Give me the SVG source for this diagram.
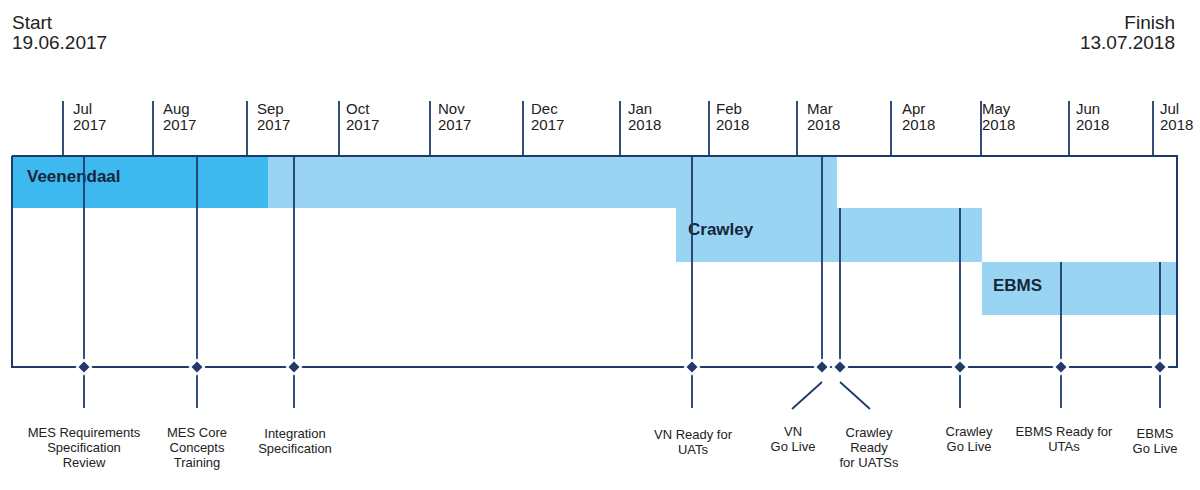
<svg xmlns="http://www.w3.org/2000/svg" width="1200" height="490" viewBox="0 0 1200 490">
  <style>
    .ln { stroke: #1e3a6b; stroke-width: 2; fill: none; }
    .ml { stroke: #1e3a6b; stroke-width: 1.8; fill: none; }
    .hdr { font-family: "Liberation Sans", Arial, sans-serif; font-size: 19px; fill: #222; }
    .mon { font-family: "Liberation Sans", Arial, sans-serif; font-size: 15px; fill: #222; }
    .lbl { font-family: "Liberation Sans", Arial, sans-serif; font-size: 13px; fill: #222; text-anchor: middle; }
    .band { font-family: "Liberation Sans", Arial, sans-serif; font-size: 17px; font-weight: bold; fill: #16263a; }
    .dark { fill: #3db9f0; }
    .light { fill: #99d5f3; }
  </style>
  <defs>
    <g id="dm">
      <polygon points="0,-8.5 8.5,0 0,8.5 -8.5,0" fill="#ffffff"/>
      <polygon points="0,-5.5 5.5,0 0,5.5 -5.5,0" fill="#1e3a6b"/>
    </g>
  </defs>
  <rect width="1200" height="490" fill="#ffffff"/>

  <g id="header">
    <text class="hdr" x="12" y="29">Start</text>
    <text class="hdr" x="12" y="49">19.06.2017</text>
    <text class="hdr" x="1175" y="29" text-anchor="end">Finish</text>
    <text class="hdr" x="1175" y="49" text-anchor="end">13.07.2018</text>
  </g>

  <g id="bands">
    <g id="band-veenendaal">
      <rect class="dark" x="12" y="156" width="256" height="52"/>
      <rect class="light" x="268" y="156" width="569" height="52"/>
      <text class="band" x="27" y="182">Veenendaal</text>
    </g>
    <g id="band-crawley">
      <rect class="light" x="676" y="208" width="306" height="54"/>
      <text class="band" x="688" y="235">Crawley</text>
    </g>
    <g id="band-ebms">
      <rect class="light" x="982" y="262" width="195" height="53"/>
      <text class="band" x="993" y="291">EBMS</text>
    </g>
  </g>

  <g id="months">
    <g class="ml">
      <line x1="63" y1="101" x2="63" y2="156"/>
      <line x1="153" y1="101" x2="153" y2="156"/>
      <line x1="247" y1="101" x2="247" y2="156"/>
      <line x1="339" y1="101" x2="339" y2="156"/>
      <line x1="430" y1="101" x2="430" y2="156"/>
      <line x1="523" y1="101" x2="523" y2="156"/>
      <line x1="620" y1="101" x2="620" y2="156"/>
      <line x1="709" y1="101" x2="709" y2="156"/>
      <line x1="797" y1="101" x2="797" y2="156"/>
      <line x1="891" y1="101" x2="891" y2="156"/>
      <line x1="981" y1="101" x2="981" y2="156"/>
      <line x1="1069" y1="101" x2="1069" y2="156"/>
      <line x1="1153" y1="101" x2="1153" y2="156"/>
    </g>
    <text class="mon" x="73" y="114">Jul</text><text class="mon" x="73" y="130">2017</text>
    <text class="mon" x="163" y="114">Aug</text><text class="mon" x="163" y="130">2017</text>
    <text class="mon" x="257" y="114">Sep</text><text class="mon" x="257" y="130">2017</text>
    <text class="mon" x="346" y="114">Oct</text><text class="mon" x="346" y="130">2017</text>
    <text class="mon" x="438" y="114">Nov</text><text class="mon" x="438" y="130">2017</text>
    <text class="mon" x="531" y="114">Dec</text><text class="mon" x="531" y="130">2017</text>
    <text class="mon" x="628" y="114">Jan</text><text class="mon" x="628" y="130">2018</text>
    <text class="mon" x="716" y="114">Feb</text><text class="mon" x="716" y="130">2018</text>
    <text class="mon" x="807" y="114">Mar</text><text class="mon" x="807" y="130">2018</text>
    <text class="mon" x="902" y="114">Apr</text><text class="mon" x="902" y="130">2018</text>
    <text class="mon" x="982" y="114">May</text><text class="mon" x="982" y="130">2018</text>
    <text class="mon" x="1076" y="114">Jun</text><text class="mon" x="1076" y="130">2018</text>
    <text class="mon" x="1160" y="114">Jul</text><text class="mon" x="1160" y="130">2018</text>
  </g>

  <g id="frame">
    <polyline class="ln" points="12,156 1177,156 1177,367 12,367 12,156"/>
  </g>

  <g id="connectors">
    <line class="ml" x1="84" y1="156" x2="84" y2="408"/>
    <line class="ml" x1="197" y1="156" x2="197" y2="408"/>
    <line class="ml" x1="294" y1="156" x2="294" y2="408"/>
    <line class="ml" x1="692" y1="156" x2="692" y2="408"/>
    <line class="ml" x1="822" y1="156" x2="822" y2="367"/>
    <line class="ml" x1="822" y1="382" x2="792" y2="409"/>
    <line class="ml" x1="840" y1="208" x2="840" y2="367"/>
    <line class="ml" x1="840" y1="382" x2="870" y2="409"/>
    <line class="ml" x1="960" y1="208" x2="960" y2="408"/>
    <line class="ml" x1="1061" y1="262" x2="1061" y2="408"/>
    <line class="ml" x1="1160" y1="262" x2="1160" y2="408"/>
  </g>

  <g id="m-mes-req">
    <use href="#dm" x="84" y="367"/>
    <text class="lbl" x="84" y="437">MES Requirements</text>
    <text class="lbl" x="84" y="452">Specification</text>
    <text class="lbl" x="84" y="467">Review</text>
  </g>
  <g id="m-mes-core">
    <use href="#dm" x="197" y="367"/>
    <text class="lbl" x="197" y="437">MES Core</text>
    <text class="lbl" x="197" y="452">Concepts</text>
    <text class="lbl" x="197" y="467">Training</text>
  </g>
  <g id="m-integration">
    <use href="#dm" x="294" y="367"/>
    <text class="lbl" x="295" y="438">Integration</text>
    <text class="lbl" x="295" y="453">Specification</text>
  </g>
  <g id="m-vn-ready">
    <use href="#dm" x="692" y="367"/>
    <text class="lbl" x="693" y="439">VN Ready for</text>
    <text class="lbl" x="693" y="454">UATs</text>
  </g>
  <g id="m-vn-live">
    <use href="#dm" x="822" y="367"/>
    <text class="lbl" x="793" y="436">VN</text>
    <text class="lbl" x="793" y="451">Go Live</text>
  </g>
  <g id="m-crawley-ready">
    <use href="#dm" x="840" y="367"/>
    <text class="lbl" x="869" y="437">Crawley</text>
    <text class="lbl" x="869" y="452">Ready</text>
    <text class="lbl" x="869" y="467">for UATSs</text>
  </g>
  <g id="m-crawley-live">
    <use href="#dm" x="960" y="367"/>
    <text class="lbl" x="969" y="436">Crawley</text>
    <text class="lbl" x="969" y="451">Go Live</text>
  </g>
  <g id="m-ebms-ready">
    <use href="#dm" x="1061" y="367"/>
    <text class="lbl" x="1064" y="436">EBMS Ready for</text>
    <text class="lbl" x="1064" y="451">UTAs</text>
  </g>
  <g id="m-ebms-live">
    <use href="#dm" x="1160" y="367"/>
    <text class="lbl" x="1155" y="438">EBMS</text>
    <text class="lbl" x="1155" y="453">Go Live</text>
  </g>
</svg>
